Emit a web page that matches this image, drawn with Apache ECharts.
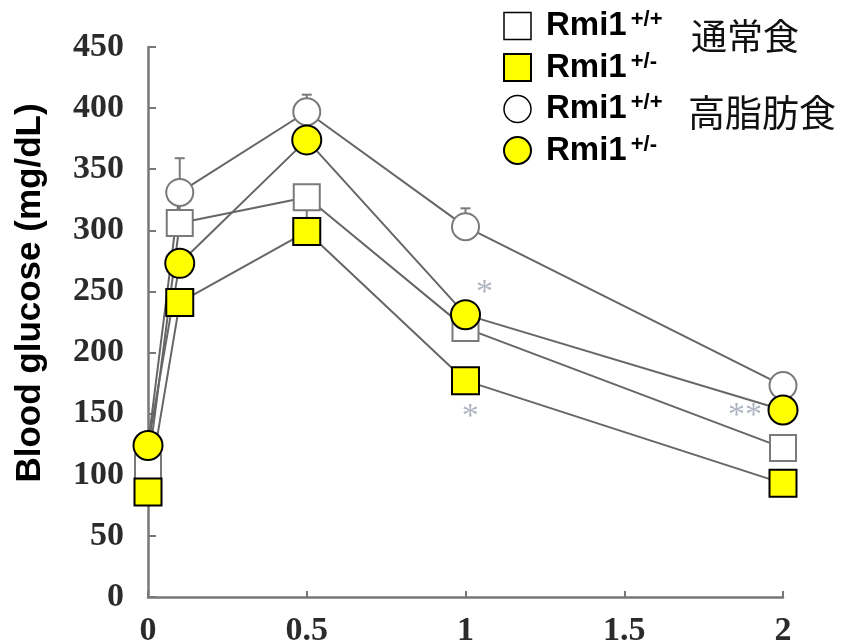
<!DOCTYPE html>
<html>
<head>
<meta charset="utf-8">
<script src="https://cdn.jsdelivr.net/npm/echarts@6/dist/echarts.min.js"></script>
<style>
  html, body { margin: 0; padding: 0; background: #fff; }
  #chart { width: 842px; height: 643px; }
</style>
</head>
<body>
<div id="chart"></div>
<script>
// Sampling times (h)
const times = [0, 0.1, 0.5, 1, 2];

// Blood glucose (mg/dL), normal diet
const ndWT  = [106, 306, 327, 220, 122];
const ndHet = [86, 241, 299, 177, 93];
// Blood glucose (mg/dL), high-fat diet
const hfdWT  = [124, 331, 397, 303, 173];
const hfdHet = [124, 273, 374, 231, 153];

// Error bars (signed: + drawn upward, - drawn downward, 0 none)
const ndWTErr  = [0, 17, -18, 0, 0];
const hfdWTErr = [0, 28, 14, 15, 0];

// Significance marks: [time, glucose, text]
const sigMarks = [[1.06, 249, '*'], [1.015, 147, '*'], [1.88, 148, '**']];

// Axis ticks
const xTicks = [0, 0.5, 1, 1.5, 2];
const yMax = 450, yStep = 50;

// Legend rows
const legendNames = ['nd_wt', 'nd_het', 'hfd_wt', 'hfd_het'];
const legendSup = ['+/+', '+/-', '+/+', '+/-'];
const dietLabels = ['通常食', '高脂肪食'];

const pairs = arr => arr.map((v, i) => [times[i], v]);

const LINE = '#666';
const OPEN_EDGE = '#7a7a7a';
const YELLOW = '#ffff00';

function lineSeries(data) {
  return {
    type: 'line', data: pairs(data), showSymbol: false, symbol: 'none',
    lineStyle: { color: LINE, width: 2 }, z: 2, silent: true, legendHoverLink: false
  };
}

function errSeries(vals, errs) {
  const d = vals.map((v, i) => [times[i], v, errs[i]]).filter(r => r[2] !== 0);
  return {
    type: 'custom', z: 3, silent: true, data: d,
    renderItem: function (params, api) {
      const x = api.value(0), y = api.value(1), e = api.value(2);
      const p0 = api.coord([x, y]);
      const p1 = api.coord([x, y + e]);
      const style = { stroke: OPEN_EDGE, lineWidth: 2 };
      return {
        type: 'group', children: [
          { type: 'line', shape: { x1: p0[0], y1: p0[1], x2: p1[0], y2: p1[1] }, style: style },
          { type: 'line', shape: { x1: p1[0] - 5, y1: p1[1], x2: p1[0] + 5, y2: p1[1] }, style: style }
        ]
      };
    }
  };
}

function markerSeries(name, data, symbol, size, fill, edge, edgeW) {
  return {
    name: name, type: 'scatter', data: pairs(data), symbol: symbol, symbolSize: size,
    itemStyle: { color: fill, borderColor: edge, borderWidth: edgeW, opacity: 1 },
    z: 4, silent: true
  };
}

const chart = echarts.init(document.getElementById('chart'), null, { renderer: 'canvas' });

const tickFont = {
  fontFamily: 'Liberation Serif', fontWeight: 'bold', fontSize: 34, color: '#2b2b2b'
};

chart.setOption({
  animation: false,
  grid: { left: 148, right: 59, top: 47, bottom: 46, containLabel: false, outerBoundsMode: 'none' },
  xAxis: {
    type: 'value', min: 0, max: 2, interval: 0.5,
    axisLine: { lineStyle: { color: '#777', width: 2.5 } },
    axisTick: { inside: true, length: 6, lineStyle: { color: '#777', width: 2 } },
    splitLine: { show: false },
    axisLabel: Object.assign({ margin: 17, formatter: v => String(v) }, tickFont)
  },
  yAxis: {
    type: 'value', min: 0, max: yMax, interval: yStep,
    name: 'Blood glucose (mg/dL)', nameLocation: 'middle', nameRotate: 90, nameGap: 100,
    nameTextStyle: {
      fontFamily: 'Liberation Sans', fontWeight: 'bold', fontSize: 35, color: '#000',
      padding: [0, 0, 0, 58]
    },
    axisLine: { show: true, lineStyle: { color: '#777', width: 2.5 } },
    axisTick: { show: true, inside: true, length: 8, lineStyle: { color: '#777', width: 2 } },
    splitLine: { show: false },
    axisLabel: Object.assign({ margin: 24 }, tickFont)
  },
  legend: {
    data: legendNames.map((n, i) => ({
      name: n,
      itemStyle: { borderColor: '#000', borderWidth: i % 2 === 0 ? 1.5 : 2 }
    })),
    orient: 'vertical', left: 498, top: 4, itemWidth: 27, itemHeight: 27, itemGap: 8,
    selectedMode: false,
    formatter: function (name) {
      return '{b|Rmi1}{s|' + legendSup[legendNames.indexOf(name)] + '}';
    },
    textStyle: {
      rich: {
        b: { fontFamily: 'Liberation Sans', fontWeight: 'bold', fontSize: 33, color: '#000', lineHeight: 34, padding: [0, 0, 0, 10] },
        s: { fontFamily: 'Liberation Sans', fontWeight: 'bold', fontSize: 22, color: '#000', lineHeight: 34, verticalAlign: 'top', padding: [0, 0, 0, 4] }
      }
    }
  },
  graphic: [
    { type: 'text', left: 691, top: 18, style: { text: dietLabels[0], font: '36px "Noto Sans CJK JP"', fill: '#111' } },
    { type: 'text', left: 688, top: 94, style: { text: dietLabels[1], font: '37px "Noto Sans CJK JP"', fill: '#111' } }
  ],
  series: [
    lineSeries(ndWT), lineSeries(ndHet), lineSeries(hfdWT), lineSeries(hfdHet),
    errSeries(ndWT, ndWTErr), errSeries(hfdWT, hfdWTErr),
    markerSeries('nd_wt', ndWT, 'rect', 26, '#fff', OPEN_EDGE, 2),
    markerSeries('nd_het', ndHet, 'rect', 27, YELLOW, '#000', 2),
    markerSeries('hfd_wt', hfdWT, 'circle', 27, '#fff', OPEN_EDGE, 2),
    markerSeries('hfd_het', hfdHet, 'circle', 29, YELLOW, '#000', 2),
    {
      type: 'scatter', symbol: 'circle', symbolSize: 1, silent: true, z: 5,
      itemStyle: { color: 'rgba(0,0,0,0)' },
      data: sigMarks.map(m => ({ value: [m[0], m[1]], label: { formatter: m[2] } })),
      label: {
        show: true, position: 'inside',
        fontFamily: 'Liberation Serif', fontSize: 34, color: '#9aa3b2'
      }
    }
  ]
});
</script>
</body>
</html>
